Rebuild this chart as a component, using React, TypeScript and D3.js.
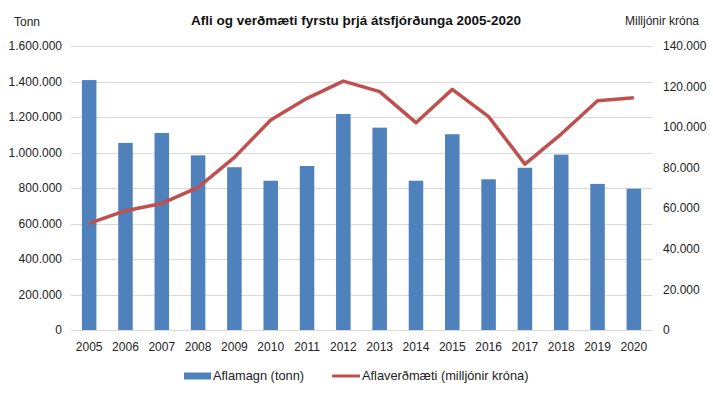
import React, { useEffect, useRef } from 'react';
import * as d3 from 'd3';

const years = ['2005', '2006', '2007', '2008', '2009', '2010', '2011', '2012', '2013', '2014', '2015', '2016', '2017', '2018', '2019', '2020'];
// Aflamagn (tonn)
const catchTonnes = [1408000, 1054000, 1110000, 984000, 917000, 841000, 924000, 1217000, 1140000, 841000, 1103000, 849000, 914000, 988000, 823000, 796000];
// Aflaverðmæti (milljónir króna)
const catchValue = [52600, 58800, 62400, 70300, 85100, 103500, 114200, 122700, 117500, 102200, 118600, 105200, 81800, 96600, 113000, 114500];
const leftTicks = [0, 200000, 400000, 600000, 800000, 1000000, 1200000, 1400000, 1600000];
const rightTicks = [0, 20000, 40000, 60000, 80000, 100000, 120000, 140000];

const FONT = '"Liberation Sans", Arial, sans-serif';

function App() {
  const chartRef = useRef<SVGSVGElement>(null);

  useEffect(() => {
    const W = 713;
    const H = 396;
    const margin = { top: 46, right: 61, bottom: 66, left: 71 };
    const width = W - margin.left - margin.right;
    const height = H - margin.top - margin.bottom;

    const root = d3.select(chartRef.current);
    root.selectAll('*').remove();
    root.append('rect').attr('width', W).attr('height', H).attr('fill', '#fff');

    const fmt = (v: number) => d3.format(',')(v).replace(/,/g, '.');

    const x = d3.scaleBand().domain(years).range([0, width]).paddingInner(0.6).paddingOuter(0.3);
    const yL = d3.scaleLinear().domain([0, 1600000]).range([height, 0]);
    const yR = d3.scaleLinear().domain([0, 140000]).range([height, 0]);

    const g = root.append('g').attr('transform', `translate(${margin.left},${margin.top})`);

    // gridlines
    g.selectAll('.grid')
      .data(leftTicks)
      .enter().append('line')
      .attr('x1', 0)
      .attr('x2', width)
      .attr('y1', d => Math.round(yL(d)) + 0.5)
      .attr('y2', d => Math.round(yL(d)) + 0.5)
      .attr('stroke', '#d9d9d9')
      .attr('stroke-width', 1);

    // left axis labels
    g.selectAll('.lt')
      .data(leftTicks)
      .enter().append('text')
      .attr('x', -9)
      .attr('y', d => yL(d))
      .attr('dy', '0.35em')
      .attr('text-anchor', 'end')
      .attr('font-family', FONT)
      .attr('font-size', 12)
      .attr('fill', '#222')
      .text(d => fmt(d));

    // right axis labels
    g.selectAll('.rt')
      .data(rightTicks)
      .enter().append('text')
      .attr('x', width + 11)
      .attr('y', d => yR(d))
      .attr('dy', '0.35em')
      .attr('text-anchor', 'start')
      .attr('font-family', FONT)
      .attr('font-size', 12)
      .attr('fill', '#222')
      .text(d => fmt(d));

    // bars
    g.selectAll('.bar')
      .data(catchTonnes)
      .enter().append('rect')
      .attr('x', (d, i) => x(years[i])!)
      .attr('y', d => yL(d))
      .attr('width', x.bandwidth())
      .attr('height', d => height - yL(d))
      .attr('fill', '#4f81bd');

    // line
    const line = d3.line<number>()
      .x((d, i) => x(years[i])! + x.bandwidth() / 2)
      .y(d => yR(d));

    g.append('path')
      .datum(catchValue)
      .attr('fill', 'none')
      .attr('stroke', '#c0504d')
      .attr('stroke-width', 3.5)
      .attr('stroke-linejoin', 'round')
      .attr('d', line);

    // x labels
    g.selectAll('.xl')
      .data(years)
      .enter().append('text')
      .attr('x', d => x(d)! + x.bandwidth() / 2)
      .attr('y', height + 21)
      .attr('text-anchor', 'middle')
      .attr('font-family', FONT)
      .attr('font-size', 12)
      .attr('fill', '#222')
      .text(d => d);

    // title and axis titles
    root.append('text')
      .attr('x', 356)
      .attr('y', 25)
      .attr('text-anchor', 'middle')
      .attr('font-family', FONT)
      .attr('font-size', 13.5)
      .attr('font-weight', 'bold')
      .attr('fill', '#111')
      .text('Afli og verðmæti fyrstu þrjá átsfjórðunga 2005-2020');

    root.append('text')
      .attr('x', 14)
      .attr('y', 26)
      .attr('font-family', FONT)
      .attr('font-size', 12)
      .attr('fill', '#222')
      .text('Tonn');

    root.append('text')
      .attr('x', 699)
      .attr('y', 25)
      .attr('text-anchor', 'end')
      .attr('font-family', FONT)
      .attr('font-size', 12)
      .attr('fill', '#222')
      .text('Milljónir króna');

    // legend
    const leg = root.append('g').attr('transform', 'translate(0,376)');
    leg.append('rect')
      .attr('x', 184).attr('y', -3.5)
      .attr('width', 27).attr('height', 7)
      .attr('fill', '#4f81bd');
    leg.append('text')
      .attr('x', 213).attr('y', 0).attr('dy', '0.35em')
      .attr('font-family', FONT).attr('font-size', 12.8).attr('fill', '#222')
      .text('Aflamagn (tonn)');
    leg.append('line')
      .attr('x1', 332).attr('x2', 360).attr('y1', 0).attr('y2', 0)
      .attr('stroke', '#c0504d').attr('stroke-width', 3);
    leg.append('text')
      .attr('x', 362).attr('y', 0).attr('dy', '0.35em')
      .attr('font-family', FONT).attr('font-size', 12.8).attr('fill', '#222')
      .text('Aflaverðmæti (milljónir króna)');
  }, []);

  return (
    <svg
      ref={chartRef}
      width={713}
      height={396}
      style={{ position: 'absolute', left: 0, top: 0, display: 'block' }}
    />
  );
}

export default App;
